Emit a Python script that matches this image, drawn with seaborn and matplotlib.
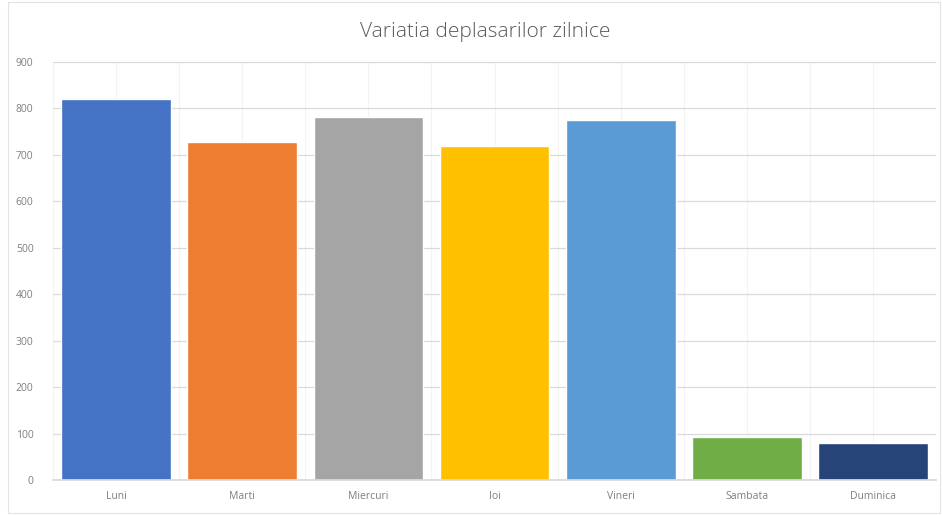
import matplotlib
matplotlib.use("Agg")
import matplotlib.pyplot as plt
import seaborn as sns
import pandas as pd
import numpy as np

days = ["Luni", "Marti", "Miercuri", "Ioi", "Vineri", "Sambata", "Duminica"]
values = [820, 728, 782, 719, 775, 93, 80]
colors = ["#4472C4", "#ED7D31", "#A5A5A5", "#FFC000", "#5B9BD5", "#70AD47", "#264478"]
yticks = [0, 100, 200, 300, 400, 500, 600, 700, 800, 900]
title = "Variatia deplasarilor zilnice"

sns.set_theme(style="white")
plt.rcParams['font.family'] = ['Open Sans', 'DejaVu Sans']

df = pd.DataFrame({"day": days, "value": values})

fig = plt.figure(figsize=(9.42, 5.15), dpi=100)
ax = fig.add_axes([0.0563, 0.068, 0.9373, 0.812])

sns.barplot(data=df, x="day", y="value", hue="day", palette=colors,
            width=0.87, legend=False, ax=ax, saturation=1, zorder=3)

ax.set_ylim(0, 900)
ax.set_xlim(-0.5, len(days) - 0.5)
ax.set_yticks(yticks)
ax.set_yticklabels([str(t) for t in yticks])
ax.yaxis.grid(True, color="#D9D9D9", linewidth=0.9, zorder=0)
for x in np.arange(-0.5, len(days), 0.5):
    ax.axvline(x, color="#F3F3F3", linewidth=0.8, zorder=0)
ax.set_axisbelow(True)

for s in ["top", "right", "left"]:
    ax.spines[s].set_visible(False)
ax.spines["bottom"].set_color("#D9D9D9")
ax.spines["bottom"].set_zorder(4)

ax.set_xlabel("")
ax.set_ylabel("")
ax.tick_params(axis="both", length=0, labelsize=7.5, colors="#7F7F7F")
ax.tick_params(axis="x", pad=8)
ax.tick_params(axis="y", pad=14)

fig.text(0.515, 0.937, title, ha="center", va="center", fontsize=15,
         color="#595959", fontweight="light")

border = plt.Rectangle((0.008, 0.004), 0.99, 0.992, transform=fig.transFigure,
                       fill=False, edgecolor="#E3E3E3", linewidth=0.8)
fig.patches.append(border)

fig.savefig("out.png", dpi=100)
